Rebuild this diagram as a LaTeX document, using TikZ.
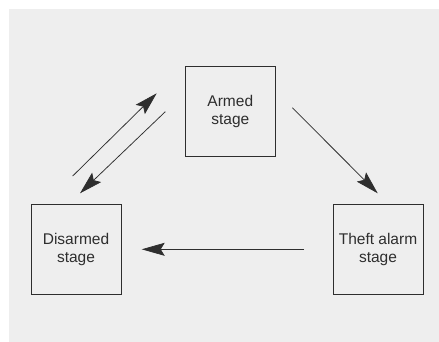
\documentclass[tikz,border=0pt]{standalone}
\usepackage{fontspec}
\setmainfont{Liberation Sans}
\usetikzlibrary{arrows.meta}
\definecolor{bg}{HTML}{EEEEEE}
\definecolor{ink}{HTML}{2E2E2E}
\tikzset{
  stagebox/.style={draw=ink, line width=0.9pt, minimum width=90pt, minimum height=90pt, inner sep=0pt, align=center, font=\fontsize{15.5}{18}\selectfont, text=ink},
  arr/.style={draw=ink, line width=0.75pt, -{Stealth[length=23pt, width=13pt, inset=4pt]}}
}
\begin{document}
\begin{tikzpicture}[x=1pt,y=-1pt]
\useasboundingbox (0,0) rectangle (439,342);
\fill[bg] (9,9) rectangle (439,342);
\node[stagebox] (armed) at (230.3,111) {Armed\\stage};
\node[stagebox] (disarmed) at (76,249.5) {Disarmed\\stage};
\node[stagebox] (theft) at (378,249) {Theft alarm\\stage};
\coordinate (a1) at (72.7,176);
\coordinate (a2) at (156.7,93.3);
\coordinate (b1) at (165.3,111.7);
\coordinate (b2) at (80,193.3);
\coordinate (c1) at (292.3,107.7);
\coordinate (c2) at (377.7,193.3);
\coordinate (d1) at (304,249.3);
\coordinate (d2) at (141.7,249.3);
\draw[arr] (a1) -- (a2);
\draw[arr] (b1) -- (b2);
\draw[arr] (c1) -- (c2);
\draw[arr] (d1) -- (d2);
\end{tikzpicture}
\end{document}
